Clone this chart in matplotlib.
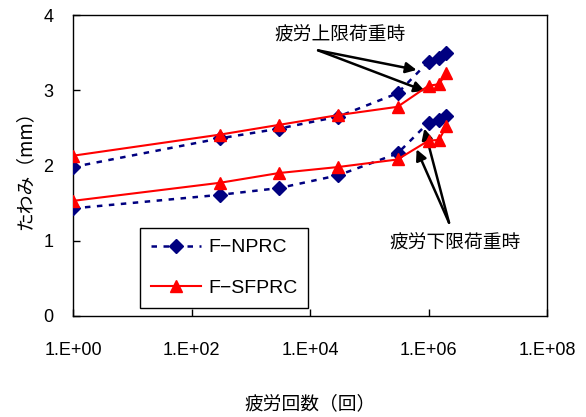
import matplotlib
matplotlib.use("Agg")
import matplotlib.pyplot as plt

plt.rcParams['font.family'] = ['Liberation Sans', 'Noto Sans CJK JP', 'DejaVu Sans']

# Data
cycles = [1, 300, 3000, 30000, 300000, 1000000, 1500000, 2000000]
nprc_upper = [1.98, 2.36, 2.49, 2.65, 2.96, 3.38, 3.43, 3.49]
nprc_lower = [1.43, 1.61, 1.70, 1.87, 2.16, 2.57, 2.61, 2.66]
sfprc_upper = [2.13, 2.41, 2.54, 2.67, 2.78, 3.06, 3.08, 3.23]
sfprc_lower = [1.53, 1.77, 1.90, 1.98, 2.08, 2.33, 2.34, 2.52]
x_ticks = [1e0, 1e2, 1e4, 1e6, 1e8]
x_tick_labels = ["1.E+00", "1.E+02", "1.E+04", "1.E+06", "1.E+08"]
y_ticks = [0, 1, 2, 3, 4]
series_names = ["F−NPRC", "F−SFPRC"]
upper_label = "疲労上限荷重時"
lower_label = "疲労下限荷重時"
xlabel = "疲労回数（回）"
ylabel = "たわみ（mm）"

navy = "#000080"
red = "#FF0000"
jp = ['Noto Sans CJK JP', 'DejaVu Sans']

fig = plt.figure(figsize=(5.86, 4.17), dpi=100)
ax = fig.add_axes([73/586, 1-316/417, (547-73)/586, (316-15)/417])

dash = (0, (2.2, 2.6))
ax.plot(cycles, nprc_upper, color=navy, lw=1.8, ls=dash, marker='D', ms=7.5,
        mfc=navy, mec=navy, label=series_names[0], zorder=3)
ax.plot(cycles, nprc_lower, color=navy, lw=1.8, ls=dash, marker='D', ms=7.5,
        mfc=navy, mec=navy, zorder=3)
ax.plot(cycles, sfprc_upper, color=red, lw=1.5, ls='-', marker='^', ms=8.5,
        mfc=red, mec=red, label=series_names[1], zorder=4)
ax.plot(cycles, sfprc_lower, color=red, lw=1.5, ls='-', marker='^', ms=8.5,
        mfc=red, mec=red, zorder=4)

ax.set_xscale('log')
ax.set_xlim(1e0, 1e8)
ax.set_ylim(0, 4)
ax.set_xticks(x_ticks)
ax.set_xticklabels(x_tick_labels)
ax.minorticks_off()
ax.set_yticks(y_ticks)
ax.tick_params(axis='both', direction='in', length=5, width=1, labelsize=13)
ax.tick_params(axis='x', pad=19)
ax.tick_params(axis='y', pad=14)
for s in ax.spines.values():
    s.set_linewidth(1)
    s.set_color('black')

ax.set_xlabel(xlabel, fontsize=13.5, labelpad=24, family=jp)
ax.set_ylabel(ylabel, fontsize=13.5, labelpad=6, family=jp)

aprops = dict(arrowstyle='-|>', color='black', lw=1.8, mutation_scale=16,
              shrinkA=0, shrinkB=0)
ax.annotate("", xy=(6.3e5, 3.27), xytext=(1.37e4, 3.53), arrowprops=aprops)
ax.annotate("", xy=(8.7e5, 2.99), xytext=(1.37e4, 3.53), arrowprops=aprops)
ax.annotate("", xy=(8.5e5, 2.49), xytext=(2.22e6, 1.24), arrowprops=aprops)
ax.annotate("", xy=(6.3e5, 2.215), xytext=(2.22e6, 1.24), arrowprops=aprops)
ax.text(3.2e4, 3.73, upper_label, fontsize=13.5, ha='center', va='center', family=jp)
ax.text(2.8e6, 0.97, lower_label, fontsize=13.5, ha='center', va='center', family=jp)

leg = ax.legend(loc='upper left', bbox_to_anchor=(140/586, 1-228/417),
                bbox_transform=fig.transFigure, fontsize=14, frameon=True,
                fancybox=False, edgecolor='black', framealpha=1,
                handlelength=2.6, labelspacing=1.2, borderpad=0.55,
                handletextpad=0.35, borderaxespad=0)
leg.get_frame().set_linewidth(1)

fig.savefig("out.png", dpi=100)
